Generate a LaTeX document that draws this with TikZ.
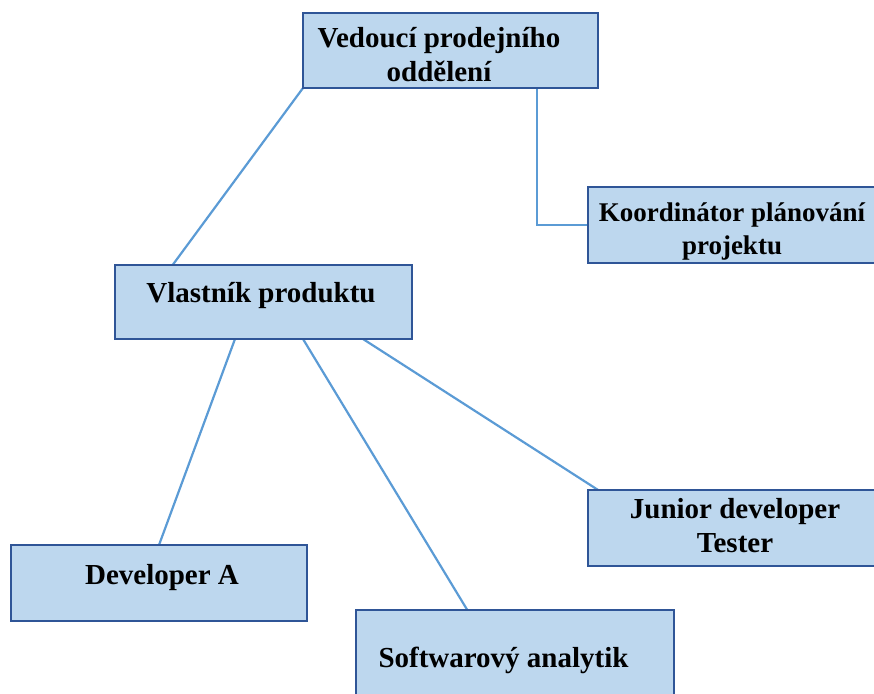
\documentclass[tikz,border=0pt]{standalone}
\usepackage{fontspec}
\setmainfont{Liberation Serif}
\usetikzlibrary{calc,backgrounds}
\definecolor{boxfill}{HTML}{BDD7EE}
\definecolor{boxedge}{HTML}{2F5597}
\definecolor{linkblue}{HTML}{5B9BD5}
\setlength{\tabcolsep}{0pt}

\begin{document}
\begin{tikzpicture}[x=1pt,y=-1pt,
  box/.style={draw=boxedge, fill=boxfill, line width=2.5pt, rectangle,
    inner sep=0pt, outer sep=0pt, anchor=north west},
  lbl/.style={anchor=base, inner sep=0pt,
    font=\bfseries\fontsize{29}{34}\selectfont},
  link/.style={draw=linkblue, line width=2.2pt}]
\useasboundingbox (0,0) rectangle (874,693);
\clip (0,0) rectangle (874,693);

% boxes
\node[box, minimum width=295pt, minimum height=75pt] (ved)    at (303,13)  {};
\node[box, minimum width=297pt, minimum height=76pt] (koord)  at (588,187) {};
\node[box, minimum width=297pt, minimum height=74pt] (vlast)  at (115,265) {};
\node[box, minimum width=296pt, minimum height=76pt] (devA)   at (11,545)  {};
\node[box, minimum width=318pt, minimum height=90pt] (soft)   at (356,610) {};
\node[box, minimum width=297pt, minimum height=76pt] (junior) at (588,490) {};

% labels
\node[lbl] (vedT) at (439,48)
  {\begin{tabular}[t]{c}Vedoucí prodejního\\oddělení\end{tabular}};
\node[lbl, font=\bfseries\fontsize{27}{33}\selectfont] (koordT) at (732,221)
  {\begin{tabular}[t]{c}Koordinátor plánování\\projektu\end{tabular}};
\node[lbl] (vlastT) at (261,302) {Vlastník produktu};
\node[lbl] (devAT) at (162,584) {Developer A};
\node[lbl] (softT) at (503.5,667) {Softwarový analytik};
\node[lbl] (juniorT) at (735,518)
  {\begin{tabular}[t]{c}Junior developer\\Tester\end{tabular}};

% connectors
\begin{scope}[on background layer]
\draw[link] (ved.south west) -- ($(vlast.north west)!0.194!(vlast.north east)$);
\draw[link] ($(ved.south west)!0.793!(ved.south east)$) |- (koord.west);
\draw[link] ($(vlast.south west)!0.404!(vlast.south east)$) -- (devA.north);
\draw[link] ($(vlast.south west)!0.633!(vlast.south east)$) -- ($(soft.north west)!0.35!(soft.north east)$);
\draw[link] ($(vlast.south west)!0.835!(vlast.south east)$) -- ($(junior.north west)!0.034!(junior.north east)$);
\end{scope}
\end{tikzpicture}
\end{document}
